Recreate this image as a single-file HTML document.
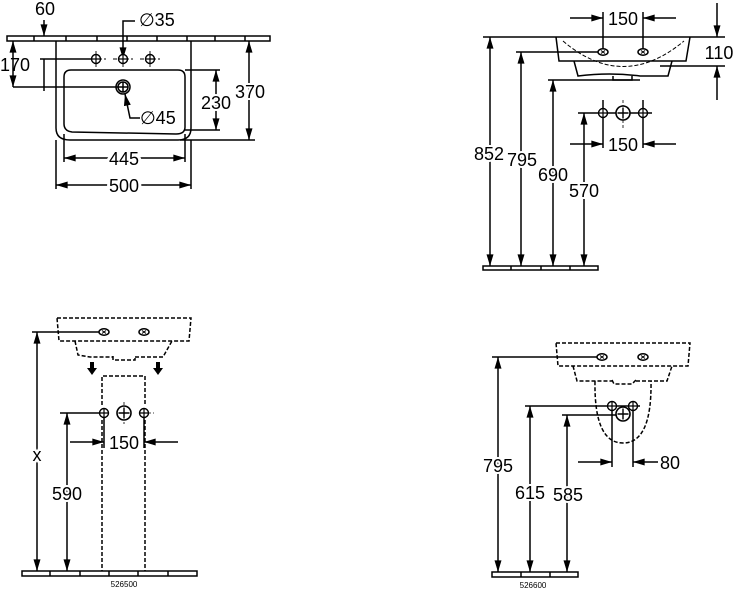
<!DOCTYPE html>
<html><head><meta charset="utf-8"><style>
html,body{margin:0;padding:0;background:#fff;}
svg{display:block;}
text{font-family:"Liberation Sans","DejaVu Sans",sans-serif;font-size:18px;fill:#000;}
.s{font-size:8px;}
</style></head><body>
<svg width="733" height="590" viewBox="0 0 733 590" xmlns="http://www.w3.org/2000/svg">
<defs>
<marker id="a" viewBox="0 0 10 6" refX="10" refY="3" markerWidth="12" markerHeight="7" markerUnits="userSpaceOnUse" orient="auto-start-reverse"><path d="M0,0L10,3L0,6z" fill="#000"/></marker>
<g id="hole"><circle r="4.5" fill="#fff" stroke="#000" stroke-width="1.4"/><path d="M-4.5,0H4.5M0,-4.5V4.5" stroke="#000" stroke-width="1.2"/></g>
<g id="big"><circle r="7" fill="#fff" stroke="#000" stroke-width="1.6"/><path d="M-5.5,0H5.5M0,-5.5V5.5" stroke="#000" stroke-width="1.4"/></g>
<g id="ov"><ellipse rx="5" ry="3.2" fill="#fff" stroke="#000" stroke-width="1.5"/><path d="M-2,-1.5L2,1.5M-2,1.5L2,-1.5" stroke="#000"/></g>
</defs>
<g stroke="#000" stroke-width="1.5" fill="none">
<!-- ===== TOP LEFT ===== -->
<path d="M7,36H270V41H7z M34,36V41M66,36V41M97,36V41M127,36V41M157,36V41M187,36V41M215,36V41M245,36V41" />
<path d="M56,41V128Q56,140 70,140H178Q191,140 191,128V41"/>
<path d="M71,70H178Q185,70 185,77V127Q185,134 176,134L72,132Q64,131 64,124V77Q64,70 71,70z"/>
<path d="M86,59H106M113,59H133M140,59H160M96,51V67M123,51V67M150,51V67" stroke-dasharray="4,2" stroke-width="0.9"/>
<circle cx="123" cy="87" r="7"/><circle cx="123" cy="87" r="5"/><path d="M118,87H128M123,82V92"/>
<path d="M44,20V36" marker-end="url(#a)"/><path d="M44,59V91"/>
<path d="M13,41V87" marker-start="url(#a)" marker-end="url(#a)"/>
<path d="M40,59H96M13,87H118"/>
<path d="M135,21H123V59" marker-end="url(#a)"/>
<path d="M140,118H130L125,94" marker-end="url(#a)"/>
<path d="M185,70H220M185,130H220"/>
<path d="M216,70V130" marker-start="url(#a)" marker-end="url(#a)"/>
<path d="M180,140H255"/>
<path d="M249,41V140" marker-start="url(#a)" marker-end="url(#a)"/>
<path d="M64,134V162M185,134V162"/>
<path d="M64,158H185" marker-start="url(#a)" marker-end="url(#a)"/>
<path d="M56,140V189M191,140V189"/>
<path d="M56,185H191" marker-start="url(#a)" marker-end="url(#a)"/>
</g>
<text x="45" y="15" text-anchor="middle">60</text>
<text x="15" y="71" text-anchor="middle">170</text>
<text x="139" y="26">∅35</text>
<text x="140" y="124">∅45</text>
<text x="216" y="109" text-anchor="middle" paint-order="stroke" stroke="#fff" stroke-width="4">230</text>
<text x="250" y="98" text-anchor="middle" paint-order="stroke" stroke="#fff" stroke-width="4">370</text>
<text x="124" y="165" text-anchor="middle" paint-order="stroke" stroke="#fff" stroke-width="6">445</text>
<text x="124" y="192" text-anchor="middle" paint-order="stroke" stroke="#fff" stroke-width="6">500</text>
<use href="#hole" x="96" y="59"/><use href="#hole" x="123" y="59"/><use href="#hole" x="150" y="59"/>

<!-- ===== TOP RIGHT ===== -->
<g stroke="#000" stroke-width="1.5" fill="none">
<path d="M483,266H598V270H483z M511,266V270M541,266V270M570,266V270"/>
<path d="M483,37H725"/>
<path d="M556,37L559,61H686L690,37"/>
<path d="M574,61L578,76Q610,72 640,76H668L672,61"/>
<path d="M613,76V80H632V76"/>
<path d="M563,41Q623,92 684,41" stroke-dasharray="4,2" stroke-width="1"/>
<path d="M660,66H725"/>
<path d="M603,12V52M643,12V52"/>
<path d="M570,18H603" marker-end="url(#a)"/><path d="M676,18H643" marker-end="url(#a)"/>
<path d="M717,3V37" marker-end="url(#a)"/><path d="M717,100V66" marker-end="url(#a)"/>
<path d="M490,37V266" marker-start="url(#a)" marker-end="url(#a)"/>
<path d="M516,52H603"/><path d="M521,52V266" marker-start="url(#a)" marker-end="url(#a)"/>
<path d="M548,80H640"/><path d="M553,80V266" marker-start="url(#a)" marker-end="url(#a)"/>
<path d="M578,113H652"/><path d="M584,113V266" marker-start="url(#a)" marker-end="url(#a)"/>
<path d="M603,100V148M643,100V148"/>
<path d="M570,144H603" marker-end="url(#a)"/><path d="M676,144H643" marker-end="url(#a)"/>
<path d="M623,100V128" stroke-dasharray="3,2" stroke-width="0.8"/>
</g>
<use href="#ov" x="603" y="52"/><use href="#ov" x="643" y="52"/>
<use href="#hole" x="603" y="113"/><use href="#big" x="623" y="113"/><use href="#hole" x="643" y="113"/>
<text x="623" y="25" text-anchor="middle" paint-order="stroke" stroke="#fff" stroke-width="4">150</text>
<text x="719" y="59" text-anchor="middle">110</text>
<text x="623" y="151" text-anchor="middle" paint-order="stroke" stroke="#fff" stroke-width="4">150</text>
<text x="489" y="160" text-anchor="middle" paint-order="stroke" stroke="#fff" stroke-width="4">852</text>
<text x="522" y="166" text-anchor="middle" paint-order="stroke" stroke="#fff" stroke-width="4">795</text>
<text x="553" y="181" text-anchor="middle" paint-order="stroke" stroke="#fff" stroke-width="4">690</text>
<text x="584" y="197" text-anchor="middle" paint-order="stroke" stroke="#fff" stroke-width="4">570</text>

<!-- ===== BOTTOM LEFT ===== -->
<g stroke="#000" stroke-width="1.5" fill="none">
<path d="M22,571H197V576H22z M50,571V576M80,571V576M109,571V576M138,571V576M168,571V576"/>
<g stroke-dasharray="4,2">
<path d="M57,318H191L189,341H59z"/>
<path d="M75,341L78,355L90,357H113M135,357H163L172,341"/>
<path d="M113,356V360H135V356"/>
<path d="M102,405V376H145V405"/>
<path d="M102,420V571M145,420V571"/>
</g>
<path d="M32,332H104"/>
<path d="M37,332V571" marker-start="url(#a)" marker-end="url(#a)"/>
<path d="M60,413H104"/>
<path d="M67,413V571" marker-start="url(#a)" marker-end="url(#a)"/>
<path d="M104,413V448M144,413V448"/>
<path d="M70,442H104" marker-end="url(#a)"/><path d="M178,442H144" marker-end="url(#a)"/>
<path d="M124,402V424M148,413H154" stroke-dasharray="3,2" stroke-width="0.8"/>
</g>
<path d="M90,362h4v6h3l-5,7l-5,-7h3z M156,362h4v6h3l-5,7l-5,-7h3z" fill="#000"/>
<use href="#ov" x="104" y="332"/><use href="#ov" x="144" y="332"/>
<use href="#hole" x="104" y="413"/><use href="#big" x="124" y="413"/><use href="#hole" x="144" y="413"/>
<text x="37" y="461" text-anchor="middle" paint-order="stroke" stroke="#fff" stroke-width="5">x</text>
<text x="67" y="500" text-anchor="middle" paint-order="stroke" stroke="#fff" stroke-width="4">590</text>
<text x="124" y="449" text-anchor="middle" paint-order="stroke" stroke="#fff" stroke-width="5">150</text>
<text class="s" x="124" y="587" text-anchor="middle">526500</text>

<!-- ===== BOTTOM RIGHT ===== -->
<g stroke="#000" stroke-width="1.5" fill="none">
<path d="M492,572H578V577H492z M521,572V577M550,572V577"/>
<g stroke-dasharray="4,2">
<path d="M556,343H690L688,366H558z"/>
<path d="M573,366L577,381H612M636,381H667L672,366"/>
<path d="M612,380L614,384H632L636,380"/>
<path d="M595,381Q594,443 623,443Q652,443 651,381"/>
</g>
<path d="M492,357H602"/>
<path d="M498,357V572" marker-start="url(#a)" marker-end="url(#a)"/>
<path d="M525,406H640"/>
<path d="M530,406V572" marker-start="url(#a)" marker-end="url(#a)"/>
<path d="M562,415H618"/>
<path d="M567,415V572" marker-start="url(#a)" marker-end="url(#a)"/>
<path d="M612,406V467M633,406V467"/>
<path d="M578,462H612" marker-end="url(#a)"/><path d="M658,462H633" marker-end="url(#a)"/>
</g>
<use href="#ov" x="602" y="357"/><use href="#ov" x="643" y="357"/>
<use href="#hole" x="612" y="406"/><use href="#hole" x="633" y="406"/><use href="#big" x="623" y="414"/>
<text x="670" y="469" text-anchor="middle">80</text>
<text x="498" y="472" text-anchor="middle" paint-order="stroke" stroke="#fff" stroke-width="4">795</text>
<text x="530" y="499" text-anchor="middle" paint-order="stroke" stroke="#fff" stroke-width="4">615</text>
<text x="568" y="501" text-anchor="middle" paint-order="stroke" stroke="#fff" stroke-width="4">585</text>
<text class="s" x="533" y="588" text-anchor="middle">526600</text>
</svg>
</body></html>
